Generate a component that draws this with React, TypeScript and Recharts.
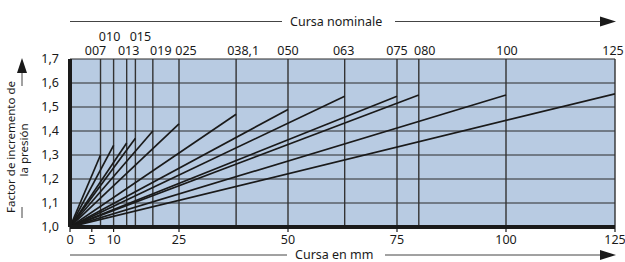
import { LineChart, Line, XAxis, YAxis, CartesianGrid, ReferenceLine } from "recharts"

const strokes = [7, 10, 13, 15, 19, 25, 38.1, 50, 63, 75, 80, 100, 125]
const strokeLabels = ["007", "010", "013", "015", "019", "025", "038,1", "050", "063", "075", "080", "100", "125"]
const factors = [1.3, 1.34, 1.35, 1.37, 1.4, 1.43, 1.47, 1.49, 1.545, 1.545, 1.55, 1.55, 1.555]
const xTicks = [0, 5, 10, 25, 50, 75, 100, 125]
const yTicks = [1.0, 1.1, 1.2, 1.3, 1.4, 1.5, 1.6, 1.7]
const upperRow = ["010", "015"]
// small horizontal nudges so the labels don't collide (as in the print)
const labelNudge = [-5, -4, 2, 5, 8, 7, 7, 0, -1, 0, 6, 1, -2]

const FONT = "'Noto Sans', sans-serif"
const INK = "#1a1a1a"

const topLabel = (i: number) => (props: any) => {
  const { viewBox } = props
  const label = strokeLabels[i]
  const up = upperRow.includes(label)
  return (
    <text
      x={viewBox.x + labelNudge[i]}
      y={viewBox.y - (up ? 18.5 : 4)}
      textAnchor="middle"
      fontSize={12.5}
      fontFamily={FONT}
      fill={INK}
    >
      {label}
    </text>
  )
}

const App = () => {
  return (
    <div style={{ position: "absolute", left: 0, top: 0 }}>
      <LineChart width={625} height={262} margin={{ top: 59, right: 10, bottom: 15, left: 0 }}>
        <CartesianGrid vertical={false} stroke="#2a2a2a" strokeWidth={1} fill="#b8cbe2" fillOpacity={1} />
        <XAxis
          dataKey="x"
          type="number"
          domain={[0, 125]}
          ticks={xTicks}
          height={20}
          axisLine={{ stroke: INK, strokeWidth: 4 }}
          tickLine={{ stroke: INK, strokeWidth: 1.2 }}
          tickSize={5}
          tick={{ fontSize: 12.5, fontFamily: FONT, fill: INK, dy: 1 }}
          allowDataOverflow
        />
        <YAxis
          type="number"
          domain={[1, 1.7]}
          ticks={yTicks}
          width={70}
          axisLine={{ stroke: INK, strokeWidth: 4 }}
          tickLine={false}
          tickFormatter={(v: number) => v.toFixed(1).replace(".", ",")}
          tick={{ fontSize: 12.5, fontFamily: FONT, fill: INK, dx: -3 }}
        />
        {strokes.map((s, i) => (
          <ReferenceLine key={`v-${s}`} x={s} stroke="#333" strokeWidth={1.4} label={topLabel(i)} />
        ))}
        {strokes.map((s, i) => (
          <Line
            key={`l-${s}`}
            data={[{ x: 0, y: 1 }, { x: s, y: factors[i] }]}
            dataKey="y"
            stroke={INK}
            strokeWidth={1.7}
            dot={false}
            isAnimationActive={false}
          />
        ))}
        <g fontFamily={FONT} fill={INK}>
          <line x1={70} y1={21.5} x2={282} y2={21.5} stroke="#444" strokeWidth={1} />
          <text x={290} y={26} fontSize={12.5}>Cursa nominale</text>
          <line x1={395} y1={21.5} x2={603} y2={21.5} stroke="#444" strokeWidth={1} />
          <polygon points="600,16.5 616,21.5 600,26.5" fill={INK} />
          <line x1={70} y1={255} x2={287} y2={255} stroke="#444" strokeWidth={1} />
          <text x={295} y={259} fontSize={12.5}>Cursa en mm</text>
          <line x1={385} y1={255} x2={603} y2={255} stroke="#444" strokeWidth={1} />
          <polygon points="600,250 616,255 600,260" fill={INK} />
          <polygon points="17,73 22,58 27,73" fill={INK} />
          <line x1={22} y1={73} x2={22} y2={86} stroke="#444" strokeWidth={1} />
          <line x1={22} y1={207} x2={22} y2={218} stroke="#444" strokeWidth={1} />
          <text x={0} y={0} fontSize={11.5} textAnchor="middle" transform="translate(15,147) rotate(-90)">
            Factor de incremento de
          </text>
          <text x={0} y={0} fontSize={11.5} textAnchor="middle" transform="translate(28,150) rotate(-90)">
            la presión
          </text>
        </g>
      </LineChart>
    </div>
  )
}

export default App
